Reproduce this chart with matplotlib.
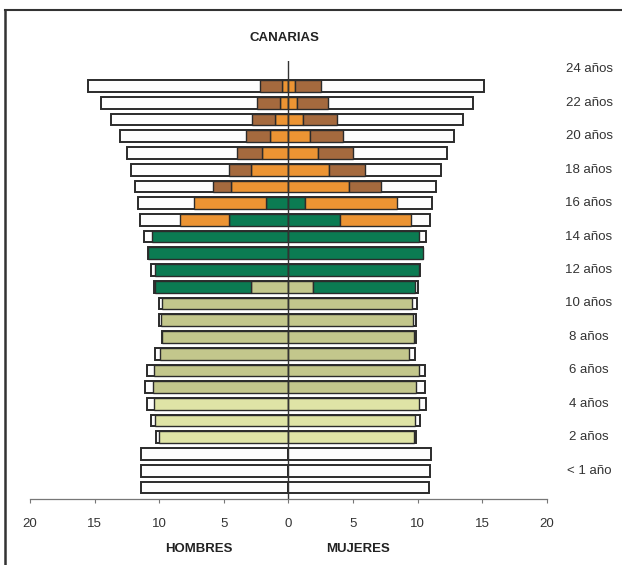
import numpy as np
import matplotlib
matplotlib.use('Agg')
import matplotlib.pyplot as plt
from matplotlib.lines import Line2D
import matplotlib.transforms as mtransforms

plt.rcParams['font.family'] = ['Liberation Sans', 'DejaVu Sans']

# edades 0..24 (de abajo a arriba)
ages = np.arange(25)
age_labels = ['< 1 año', '2 años', '4 años', '6 años', '8 años', '10 años', '12 años',
              '14 años', '16 años', '18 años', '20 años', '22 años', '24 años']

# HOMBRES
h_total = [11.37, 11.37, 11.42, 10.26, 10.65, 10.96, 11.11, 10.96, 10.29, 9.82, 9.98, 10.05, 10.39,
           10.67, 10.90, 11.19, 11.50, 11.62, 11.91, 12.20, 12.51, 13.02, 13.74, 14.54, 15.49]
h_infantil = [0, 0, 0, 10.00, 10.34, 10.42, 0, 0, 0, 0, 0, 0, 0,
              0, 0, 0, 0, 0, 0, 0, 0, 0, 0, 0, 0]
h_primaria = [0, 0, 0, 0, 0, 0, 10.46, 10.39, 9.90, 9.78, 9.88, 9.77, 2.86,
              0, 0, 0, 0, 0, 0, 0, 0, 0, 0, 0, 0]
h_eso = [0, 0, 0, 0, 0, 0, 0, 0, 0, 0, 0, 0, 7.44,
         10.29, 10.85, 10.56, 4.62, 1.70, 0, 0, 0, 0, 0, 0, 0]
h_bach = [0, 0, 0, 0, 0, 0, 0, 0, 0, 0, 0, 0, 0,
          0, 0, 0, 3.73, 5.62, 4.41, 2.86, 2.03, 1.45, 1.06, 0.67, 0.49]
h_univ = [0, 0, 0, 0, 0, 0, 0, 0, 0, 0, 0, 0, 0,
          0, 0, 0, 0, 0, 1.41, 1.73, 1.94, 1.80, 1.75, 1.75, 1.68]

# MUJERES
m_total = [10.90, 10.98, 11.04, 9.90, 10.23, 10.62, 10.54, 10.57, 9.80, 9.90, 9.90, 9.98, 10.03,
           10.20, 10.44, 10.67, 10.93, 11.14, 11.45, 11.83, 12.26, 12.82, 13.53, 14.31, 15.13]
m_infantil = [0, 0, 0, 9.72, 9.82, 10.11, 0, 0, 0, 0, 0, 0, 0,
              0, 0, 0, 0, 0, 0, 0, 0, 0, 0, 0, 0]
m_primaria = [0, 0, 0, 0, 0, 0, 9.90, 10.11, 9.31, 9.72, 9.64, 9.57, 1.91,
              0, 0, 0, 0, 0, 0, 0, 0, 0, 0, 0, 0]
m_eso = [0, 0, 0, 0, 0, 0, 0, 0, 0, 0, 0, 0, 7.86,
         10.10, 10.42, 10.13, 4.02, 1.31, 0, 0, 0, 0, 0, 0, 0]
m_bach = [0, 0, 0, 0, 0, 0, 0, 0, 0, 0, 0, 0, 0,
          0, 0, 0, 5.44, 7.10, 4.72, 3.15, 2.30, 1.65, 1.14, 0.70, 0.49]
m_univ = [0, 0, 0, 0, 0, 0, 0, 0, 0, 0, 0, 0, 0,
          0, 0, 0, 0, 0, 2.47, 2.75, 2.73, 2.58, 2.65, 2.37, 2.01]

colors = ['#dfe4a6', '#c3c78c', '#0b7b52', '#ec9433', '#a56a3e']
edge = '#2b2b2b'
bh = 0.7

fig = plt.figure(figsize=(6.22, 5.65), dpi=100)
ax = fig.add_axes([30 / 622, 1 - 499 / 565, 516.7 / 622, 438 / 565])

# barras blancas = total de poblacion
ax.barh(ages, -np.array(h_total), height=bh, color='#fdfdfd', edgecolor=edge, linewidth=1.4)
ax.barh(ages, m_total, height=bh, color='#fdfdfd', edgecolor=edge, linewidth=1.4)

# segmentos apilados desde el centro
for sign, series in [(-1, [h_infantil, h_primaria, h_eso, h_bach, h_univ]),
                     (1, [m_infantil, m_primaria, m_eso, m_bach, m_univ])]:
    base = np.zeros(len(ages))
    for vals, col in zip(series, colors):
        vals = np.array(vals)
        mask = vals > 0
        ax.barh(ages[mask], sign * vals[mask], left=sign * base[mask], height=bh,
                color=col, edgecolor=edge, linewidth=1.0)
        base = base + vals

ax.axvline(0, color='#333333', linewidth=1.0)

ax.set_xlim(-20, 20)
ax.set_ylim(-0.69, 25.5)
ax.set_xticks(np.arange(-20, 21, 5))
ax.set_xticklabels([str(abs(v)) for v in range(-20, 21, 5)])
ax.tick_params(axis='x', direction='out', length=3, width=0.8, color='#777777',
               labelsize=9.5, labelcolor='#333333', pad=11)
ax.set_yticks([])
for s in ['top', 'right', 'left']:
    ax.spines[s].set_visible(False)
ax.spines['bottom'].set_color('#777777')
ax.spines['bottom'].set_linewidth(0.9)

# etiquetas de edad a la derecha
trans = mtransforms.blended_transform_factory(ax.transAxes, ax.transData)
for i, lab in enumerate(age_labels):
    ax.text((589 - 30) / 516.7, 2 * i + 1, lab, transform=trans, ha='center', va='center',
            fontsize=9.5, color='#333333')

fig.text(284 / 622, 1 - 38 / 565, 'CANARIAS', ha='center', va='center',
         fontsize=9.5, fontweight='bold', color='#222222')
fig.text(199 / 622, 1 - 549 / 565, 'HOMBRES', ha='center', va='center',
         fontsize=9.5, fontweight='bold', color='#222222')
fig.text(358 / 622, 1 - 549 / 565, 'MUJERES', ha='center', va='center',
         fontsize=9.5, fontweight='bold', color='#222222')

# marco
fig.add_artist(Line2D([5 / 622, 1], [1 - 10 / 565, 1 - 10 / 565], transform=fig.transFigure,
                      color='#333333', linewidth=1.5))
fig.add_artist(Line2D([5 / 622, 5 / 622], [0, 1 - 10 / 565], transform=fig.transFigure,
                      color='#333333', linewidth=1.8))

fig.savefig('out.png', dpi=100)
